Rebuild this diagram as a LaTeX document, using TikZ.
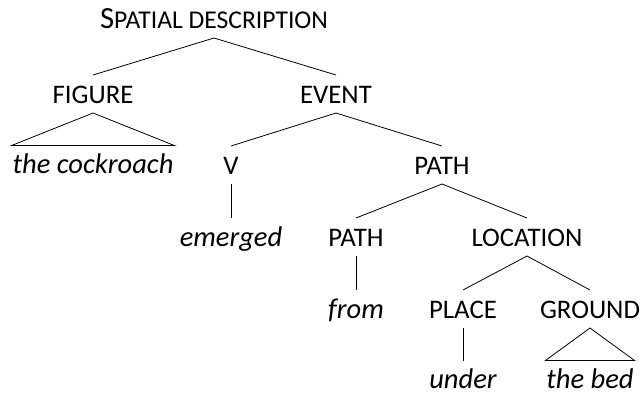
\documentclass[tikz,border=0pt]{standalone}
\usepackage{fontspec}
\setmainfont{Carlito}
\begin{document}
\begin{tikzpicture}[x=1pt,y=-1pt,
  lab/.style={inner sep=0pt, text height=18pt, text depth=0pt, outer xsep=1pt, outer ysep=10pt,
    font=\fontsize{26.8}{32}\selectfont},
  leaf/.style={lab, font=\fontsize{28.5}{32}\selectfont\itshape},
  edge/.style={line width=0.8pt, line join=miter}]
\path[use as bounding box] (0,0) rectangle (640,392);
\node[lab] (root) at (214,19) {{\fontsize{30.8}{32}\selectfont S}{\fontsize{25.6}{30}\selectfont PATIAL DESCRIPTION}};
\node[lab] (fig) at (93,94) {FIGURE};
\node[lab] (event) at (336,94) {EVENT};
\node[leaf] (cock) at (93,164.5) {the cockroach};
\node[lab] (v) at (231,165) {V};
\node[lab] (path1) at (442,165) {PATH};
\node[leaf] (emerged) at (231,237) {emerged};
\node[lab] (path2) at (356,237) {PATH};
\node[lab] (loc) at (527,237) {LOCATION};
\node[leaf] (from) at (356,309) {from};
\node[lab] (place) at (463,309) {PLACE};
\node[lab] (ground) at (590,309) {GROUND};
\node[leaf] (under) at (463,379.5) {under};
\node[leaf] (bed) at (590,379.5) {the bed};
\draw[edge] (root.south) -- (fig.north);
\draw[edge] (root.south) -- (event.north);
\draw[edge] (fig.south) -- (cock.north west) -- (cock.north east) -- cycle;
\draw[edge] (event.south) -- (v.north);
\draw[edge] (event.south) -- (path1.north);
\draw[edge] (v.south) -- (emerged.north);
\draw[edge] (path1.south) -- (path2.north);
\draw[edge] (path1.south) -- (loc.north);
\draw[edge] (path2.south) -- (from.north);
\draw[edge] (loc.south) -- (place.north);
\draw[edge] (loc.south) -- (ground.north);
\draw[edge] (place.south) -- (under.north);
\draw[edge] (ground.south) -- (bed.north west) -- (bed.north east) -- cycle;
\end{tikzpicture}
\end{document}
